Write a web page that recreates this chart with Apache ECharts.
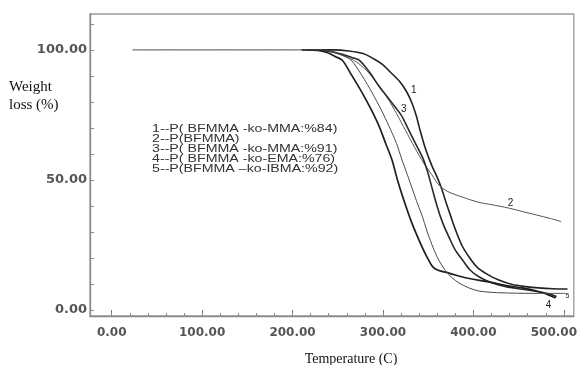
<!DOCTYPE html>
<html><head><meta charset="utf-8">
<script src="https://cdn.jsdelivr.net/npm/echarts@6/dist/echarts.min.js"></script>
<style>html,body{margin:0;padding:0;background:#fff}#c{width:580px;height:365px}</style>
</head><body><div id="c"></div>
<script>
// Temperature (C), Weight (%)
const curve1 = [[215,100],[245,100],[262,99.6],[278,98.6],[290,96.5],[299,94.5],[308,91.5],[318,88],[326,84],[332,79.6],[337,74.5],[340,70.4],[347,62],[354,55.5],[360,51],[365,46.5],[370,41],[375,36],[380,31],[387,25],[395,20.5],[404,16.5],[414,14],[428,11.5],[443,9.8],[458,9],[472,8.5],[488,8.2],[504,8.1]];
const curve2 = [[228,100],[245,99],[258,97.5],[270,95.5],[282,92],[294,87],[305,81.5],[315,75.5],[325,69],[335,62.5],[345,56.5],[354,52],[362,48],[372,45.5],[387,43.5],[405,41.5],[420,40.5],[439,39.2],[455,37.8],[470,36.5],[485,35.2],[497,34]];
const curve3 = [[222,100],[240,99.6],[255,98.3],[266,97],[274,96],[285,91.5],[296,85.8],[308,80.5],[320,75],[328,69.5],[336,64],[344,58.5],[349,53.5],[353,48.5],[360,39.7],[366,33.5],[373,28],[380,23],[388,19.2],[396,15.5],[406,12.8],[420,10.5],[436,9],[454,8],[472,7],[483,6.2],[492,5.2]];
const curve4 = [[210,100],[228,99.8],[238,99],[247,97.5],[255,96],[265,90.5],[277,83.5],[287,77],[296,70.4],[303,64],[310,57.7],[316,50],[323,42.3],[332,33.4],[343,24.4],[350,19.5],[355,16.6],[361,15.3],[373,14.2],[390,12.5],[417,10.8],[440,9.2],[454,8.5],[470,7.3],[483,5.8],[491,4.6]];
const curve5 = [[23,100],[232,100],[245,99.2],[256,97.8],[265,96],[277,90],[288,83.5],[298,77],[307,70.4],[315,64],[321,57.7],[327,52],[332,47],[337,42],[343,36.5],[349,30],[356,23.5],[362,19],[369,15.2],[376,12.5],[384,10.4],[395,8.5],[406,7.3],[420,6.8],[443,6.5],[470,6.4],[502,6.4]];

const xTickLabels = [0,100,200,300,400,500];
const xMinorTicks = [0,20,40,60,80,100,120,140,160,180,200,220,240,260,280,300,320,340,360,380,400,420,440,460,480,500];
const yTickLabels = [0,50,100];
const yMinorTicks = [0,10,20,30,40,50,60,70,80,90,100,110];

const legendLines = [
  '1--P( BFMMA -ko-MMA:%84)',
  '2--P(BFMMA)',
  '3--P( BFMMA -ko-MMA:%91)',
  '4--P( BFMMA -ko-EMA:%76)',
  '5--P(BFMMA \u2013ko-IBMA:%92)'
];
const curveTags = [
  ['1', 334, 84.6],
  ['2', 441, 41.0],
  ['3', 323, 77.0],
  ['4', 483, 1.9],
  ['5', 504, 5.3]
];

const chart = echarts.init(document.getElementById('c'), null, {renderer:'canvas'});
const curves = [curve1, curve2, curve3, curve4, curve5];
const widths = [1.6, 1.0, 1.6, 1.7, 1.0];
const colors = ['#222', '#555', '#2a2a2a', '#1e1e1e', '#4a4a4a'];

const series = curves.map((d, i) => ({
  type: 'line',
  name: legendLines[i],
  data: d,
  showSymbol: false,
  smooth: 0.3,
  lineStyle: {color: colors[i], width: widths[i]},
  itemStyle: {color: colors[i]},
  z: 3,
  markPoint: {
    symbol: 'circle', symbolSize: 1,
    itemStyle: {color: 'rgba(0,0,0,0)'},
    label: {show: true, formatter: '{b}', position: 'inside',
      color: '#222', fontFamily: 'Liberation Sans',
      fontSize: curveTags[i][0] === '5' ? 7 : 10},
    data: [{name: curveTags[i][0], coord: [curveTags[i][1], curveTags[i][2]]}]
  }
}));

const labelStyle = {color:'#555', fontFamily:'DejaVu Sans', fontWeight:'bold', fontSize:12};

chart.setOption({
  animation: false,
  backgroundColor: '#fff',
  grid: {left: 90, top: 14, right: 5, bottom: 49, show: true, borderColor: '#9a9a9a', borderWidth: 1.3},
  xAxis: [{
    type: 'value', min: -24, max: 511,
    axisLine: {show: true, onZero: false, lineStyle: {color: '#888', width: 1.3}},
    axisTick: {show: true, inside: true, length: 6, customValues: xTickLabels, lineStyle: {color: '#777'}},
    splitLine: {show: false},
    axisLabel: Object.assign({}, labelStyle, {
      customValues: xTickLabels, margin: 11,
      formatter: v => v === 500 ? '{r|500.00}' : v.toFixed(2),
      rich: {r: Object.assign({}, labelStyle, {padding: [0, 20, 0, 0]})}
    })
  }, {
    type: 'value', min: -24, max: 511, position: 'bottom',
    axisLine: {show: false, onZero: false},
    axisTick: {show: true, inside: true, length: 3, customValues: xMinorTicks, lineStyle: {color: '#888'}},
    axisLabel: {show: false},
    splitLine: {show: false}
  }],
  yAxis: {
    type: 'value', min: -2.3, max: 113.8,
    axisLine: {show: true, onZero: false, lineStyle: {color: '#888', width: 1.3}},
    axisTick: {show: true, inside: true, length: 4, customValues: yMinorTicks, lineStyle: {color: '#888'}},
    splitLine: {show: false},
    axisLabel: Object.assign({}, labelStyle, {fontSize: 13, customValues: yTickLabels, margin: 3, formatter: v => v.toFixed(2)})
  },
  series: series,
  graphic: [
    {type: 'text', left: 9, top: 80, style: {text: 'Weight', font: '15px "Liberation Serif"', fill: '#111'}},
    {type: 'text', left: 9, top: 98, style: {text: 'loss (%)', font: '15px "Liberation Serif"', fill: '#111'}},
    {type: 'text', x: 351, y: 359, style: {text: 'Temperature (C)', font: '14px "Liberation Serif"', fill: '#111', textAlign: 'center', textVerticalAlign: 'middle'}}
  ].concat(legendLines.map((t, i) => ({
    type: 'text', x: 152, y: [129, 139, 149.3, 159.3, 169.3][i], scaleX: 1.42, scaleY: 1,
    style: {text: t, font: '10px "Liberation Sans"', fill: '#333', textVerticalAlign: 'middle'}
  })))
});
</script>
</body></html>
